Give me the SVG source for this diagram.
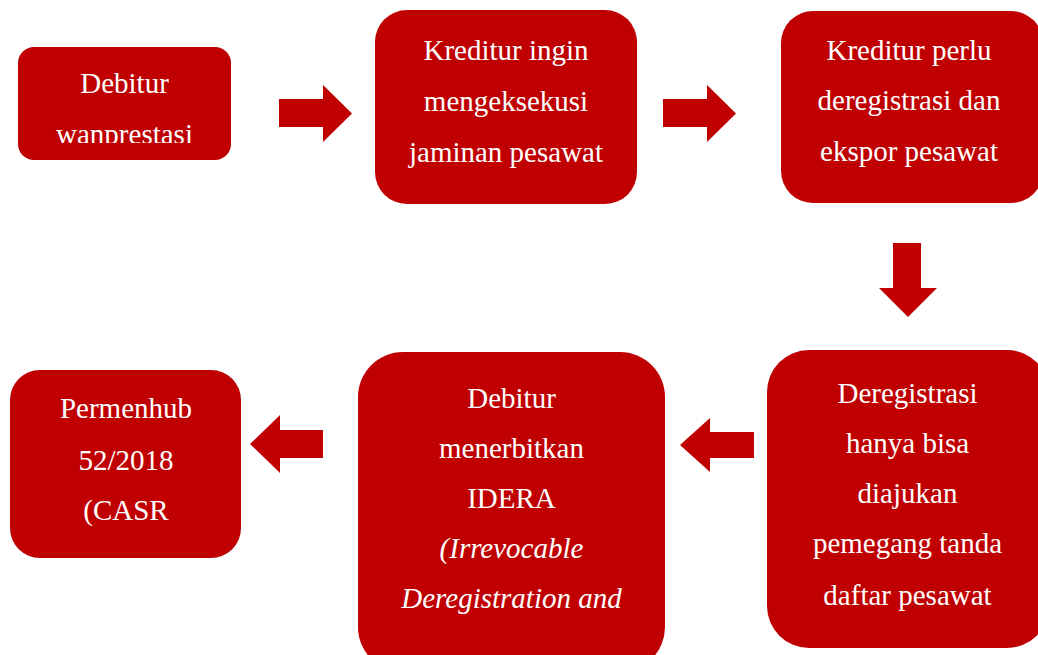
<svg xmlns="http://www.w3.org/2000/svg" width="1038" height="655" viewBox="0 0 1038 655">
<style>
.box{fill:#C00000}
.arr{fill:#C00000}
text{font-family:"Liberation Serif","Times New Roman",serif;font-size:29px;fill:#FFFFFF;text-anchor:middle}
.it{font-style:italic}
</style>
<defs>
<clipPath id="c1"><rect x="18" y="47" width="213" height="96"/></clipPath>
</defs>
<rect width="1038" height="655" fill="#FFFFFF"/>
<g id="connectors">
<polygon class="arr" points="279,99 323,99 323,85 352,113.5 323,142 323,127 279,127"/>
<polygon class="arr" points="663,99 707,99 707,85 736,113.5 707,142 707,127 663,127"/>
<polygon class="arr" points="893,243 921,243 921,288 937,288 908,317 879,288 893,288"/>
<polygon class="arr" points="754,432 710,432 710,418 680,445 710,472 710,458 754,458"/>
<polygon class="arr" points="323,430 280,430 280,415 250,444 280,473 280,458 323,458"/>
</g>
<g id="n1">
<rect class="box" x="18" y="47" width="213" height="113" rx="16"/>
<g clip-path="url(#c1)">
<text x="124.5" y="93">Debitur</text>
<text x="124.5" y="144">wanprestasi</text>
</g>
</g>
<g id="n2">
<rect class="box" x="375" y="10" width="262" height="194" rx="32"/>
<text x="506" y="60">Kreditur ingin</text>
<text x="506" y="111">mengeksekusi</text>
<text x="506" y="162">jaminan pesawat</text>
</g>
<g id="n3">
<rect class="box" x="781" y="11" width="262" height="192" rx="32"/>
<text x="909" y="60">Kreditur perlu</text>
<text x="909" y="110">deregistrasi dan</text>
<text x="909" y="161">ekspor pesawat</text>
</g>
<g id="n4">
<rect class="box" x="10" y="370" width="231" height="188" rx="30"/>
<text x="126" y="418">Permenhub</text>
<text x="126" y="470">52/2018</text>
<text x="126" y="520">(CASR</text>
</g>
<g id="n5">
<rect class="box" x="358" y="352" width="307" height="320" rx="45"/>
<text x="511.5" y="408">Debitur</text>
<text x="511.5" y="458">menerbitkan</text>
<text x="511.5" y="508">IDERA</text>
<text class="it" x="511.5" y="558">(Irrevocable</text>
<text class="it" x="511.5" y="608">Deregistration and</text>
</g>
<g id="n6">
<rect class="box" x="767" y="350" width="282" height="298" rx="42"/>
<text x="907.5" y="403">Deregistrasi</text>
<text x="907.5" y="453">hanya bisa</text>
<text x="907.5" y="503">diajukan</text>
<text x="907.5" y="553">pemegang tanda</text>
<text x="907.5" y="605">daftar pesawat</text>
</g>
</svg>
